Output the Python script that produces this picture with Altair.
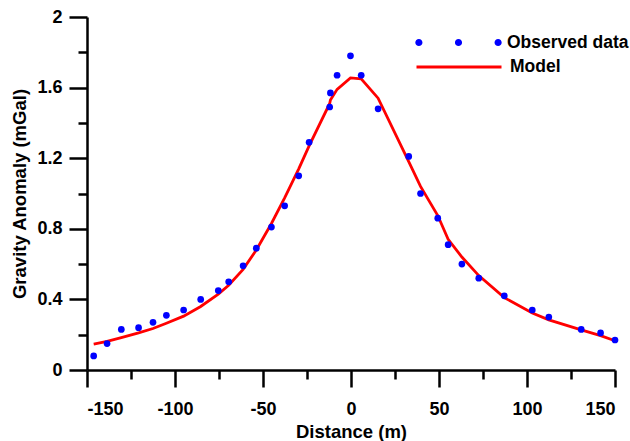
import altair as alt
import pandas as pd

# ---- data ----
distance = [-146.2, -138.6, -130.5, -120.7, -112.5, -104.9, -95.1, -85.4, -75.4, -69.5,
            -61.3, -53.8, -45.2, -37.7, -29.7, -23.8, -12.1, -11.7, -7.9, -0.3,
            5.8, 15.4, 32.8, 39.5, 49.3, 55.2, 63.0, 72.6, 87.1, 103.0,
            112.4, 130.8, 141.8, 150.0]
observed = [0.08, 0.15, 0.23, 0.24, 0.27, 0.31, 0.34, 0.40, 0.45, 0.50,
            0.59, 0.69, 0.81, 0.93, 1.10, 1.29, 1.49, 1.57, 1.67, 1.78,
            1.67, 1.48, 1.21, 1.00, 0.86, 0.71, 0.60, 0.52, 0.42, 0.34,
            0.30, 0.23, 0.21, 0.17]
model = [0.147, 0.162, 0.183, 0.21, 0.235, 0.265, 0.305, 0.36, 0.43, 0.48,
         0.57, 0.68, 0.83, 0.975, 1.14, 1.27, 1.51, 1.53, 1.59, 1.655,
         1.65, 1.54, 1.18, 1.04, 0.875, 0.74, 0.64, 0.535, 0.41, 0.323,
         0.284, 0.227, 0.195, 0.166]

x_major = [-150, -100, -50, 0, 50, 100, 150]
x_minor = [-125, -75, -25, 25, 75, 125]
y_major = [0, 0.4, 0.8, 1.2, 1.6, 2]
y_minor = [0.2, 0.6, 1.0, 1.4, 1.8]

obs_df = pd.DataFrame({"x": distance, "y": observed, "series": "Observed data"})
mod_df = pd.DataFrame({"x": distance, "y": model, "series": "Model"})

FONT = "Liberation Sans"
W, H = 528, 353
LEFT, TOP = 87, 17

xscale = alt.Scale(domain=[-150, 150], nice=False, zero=False)
yscale = alt.Scale(domain=[0, 2], nice=False, zero=False)

# three dots symbol for legend (path in -1..1 box)
r = 0.083
def circ(cx):
    return (f"M{cx - r:.4f},0a{r},{r} 0 1,0 {2*r:.4f},0a{r},{r} 0 1,0 {-2*r:.4f},0Z")
dots_path = circ(-0.917) + circ(0.0) + circ(0.917)

line = alt.Chart(mod_df).mark_line(strokeWidth=2.8, clip=False).encode(
    x=alt.X("x:Q", scale=xscale,
            axis=alt.Axis(orient="bottom", values=x_minor, tickSize=9,
                          tickWidth=2.5, tickColor="black",
                          labels=False, domain=False, grid=False, title=None)),
    y=alt.Y("y:Q", scale=yscale,
            axis=alt.Axis(orient="left", values=y_minor, tickSize=9,
                          tickWidth=2.5, tickColor="black",
                          labels=False, domain=False, grid=False, title=None)),
    color=alt.Color("series:N", scale=alt.Scale(domain=["Model"], range=["#ff0000"]),
                    legend=alt.Legend(orient="none", legendX=328, legendY=6, title=None,
                                      symbolType="stroke", symbolSize=7225,
                                      symbolStrokeWidth=2.8, labelFont=FONT,
                                      labelFontSize=17.5, labelFontWeight="bold",
                                      labelColor="black", labelOffset=7, padding=0)),
)

points = alt.Chart(obs_df).mark_circle(size=45, opacity=1, clip=False).encode(
    x=alt.X("x:Q", scale=xscale,
            axis=alt.Axis(orient="bottom", values=x_major, labelExpr="datum.value + ''",
                          tickSize=17, tickWidth=2.5, tickColor="black",
                          domainColor="black", domainWidth=2.5, grid=False,
                          labelFont=FONT, labelFontSize=18, labelFontWeight="bold",
                          labelColor="black", labelPadding=13,
                          title="Distance (m)", titleFont=FONT, titleFontSize=18.5,
                          titleFontWeight="bold", titleColor="black",
                          titleBaseline="alphabetic", titleY=67.4)),
    y=alt.Y("y:Q", scale=yscale,
            axis=alt.Axis(orient="left", values=y_major, labelExpr="datum.value + ''",
                          tickSize=18, tickWidth=2.5, tickColor="black",
                          domainColor="black", domainWidth=2.5, grid=False,
                          labelFont=FONT, labelFontSize=18, labelFontWeight="bold",
                          labelColor="black", labelPadding=7,
                          title="Gravity Anomaly (mGal)", titleFont=FONT,
                          titleFontSize=18.5, titleFontWeight="bold", titleColor="black",
                          titleAngle=-90, titleBaseline="alphabetic", titleAlign="center",
                          titleX=-61.7, titleY=H / 2)),
    color=alt.Color("series:N", scale=alt.Scale(domain=["Observed data"], range=["#0000ff"]),
                    legend=alt.Legend(orient="none", legendX=328, legendY=-18, title=None,
                                      symbolType=dots_path, symbolSize=7465,
                                      symbolStrokeWidth=0, symbolOpacity=1,
                                      labelFont=FONT, labelFontSize=17.5,
                                      labelFontWeight="bold", labelColor="black",
                                      labelOffset=5, padding=0)),
)

chart = alt.layer(line, points).resolve_scale(color="independent").resolve_axis(
    x="independent", y="independent"
).resolve_legend(color="independent").properties(
    width=W, height=H,
    autosize=alt.AutoSizeParams(type="none"),
    padding={"left": LEFT, "top": TOP, "right": 630 - LEFT - W, "bottom": 441 - TOP - H},
    background="white",
).configure_view(stroke=None)

chart.save("out.html", embed_options={"renderer": "svg", "actions": False})
